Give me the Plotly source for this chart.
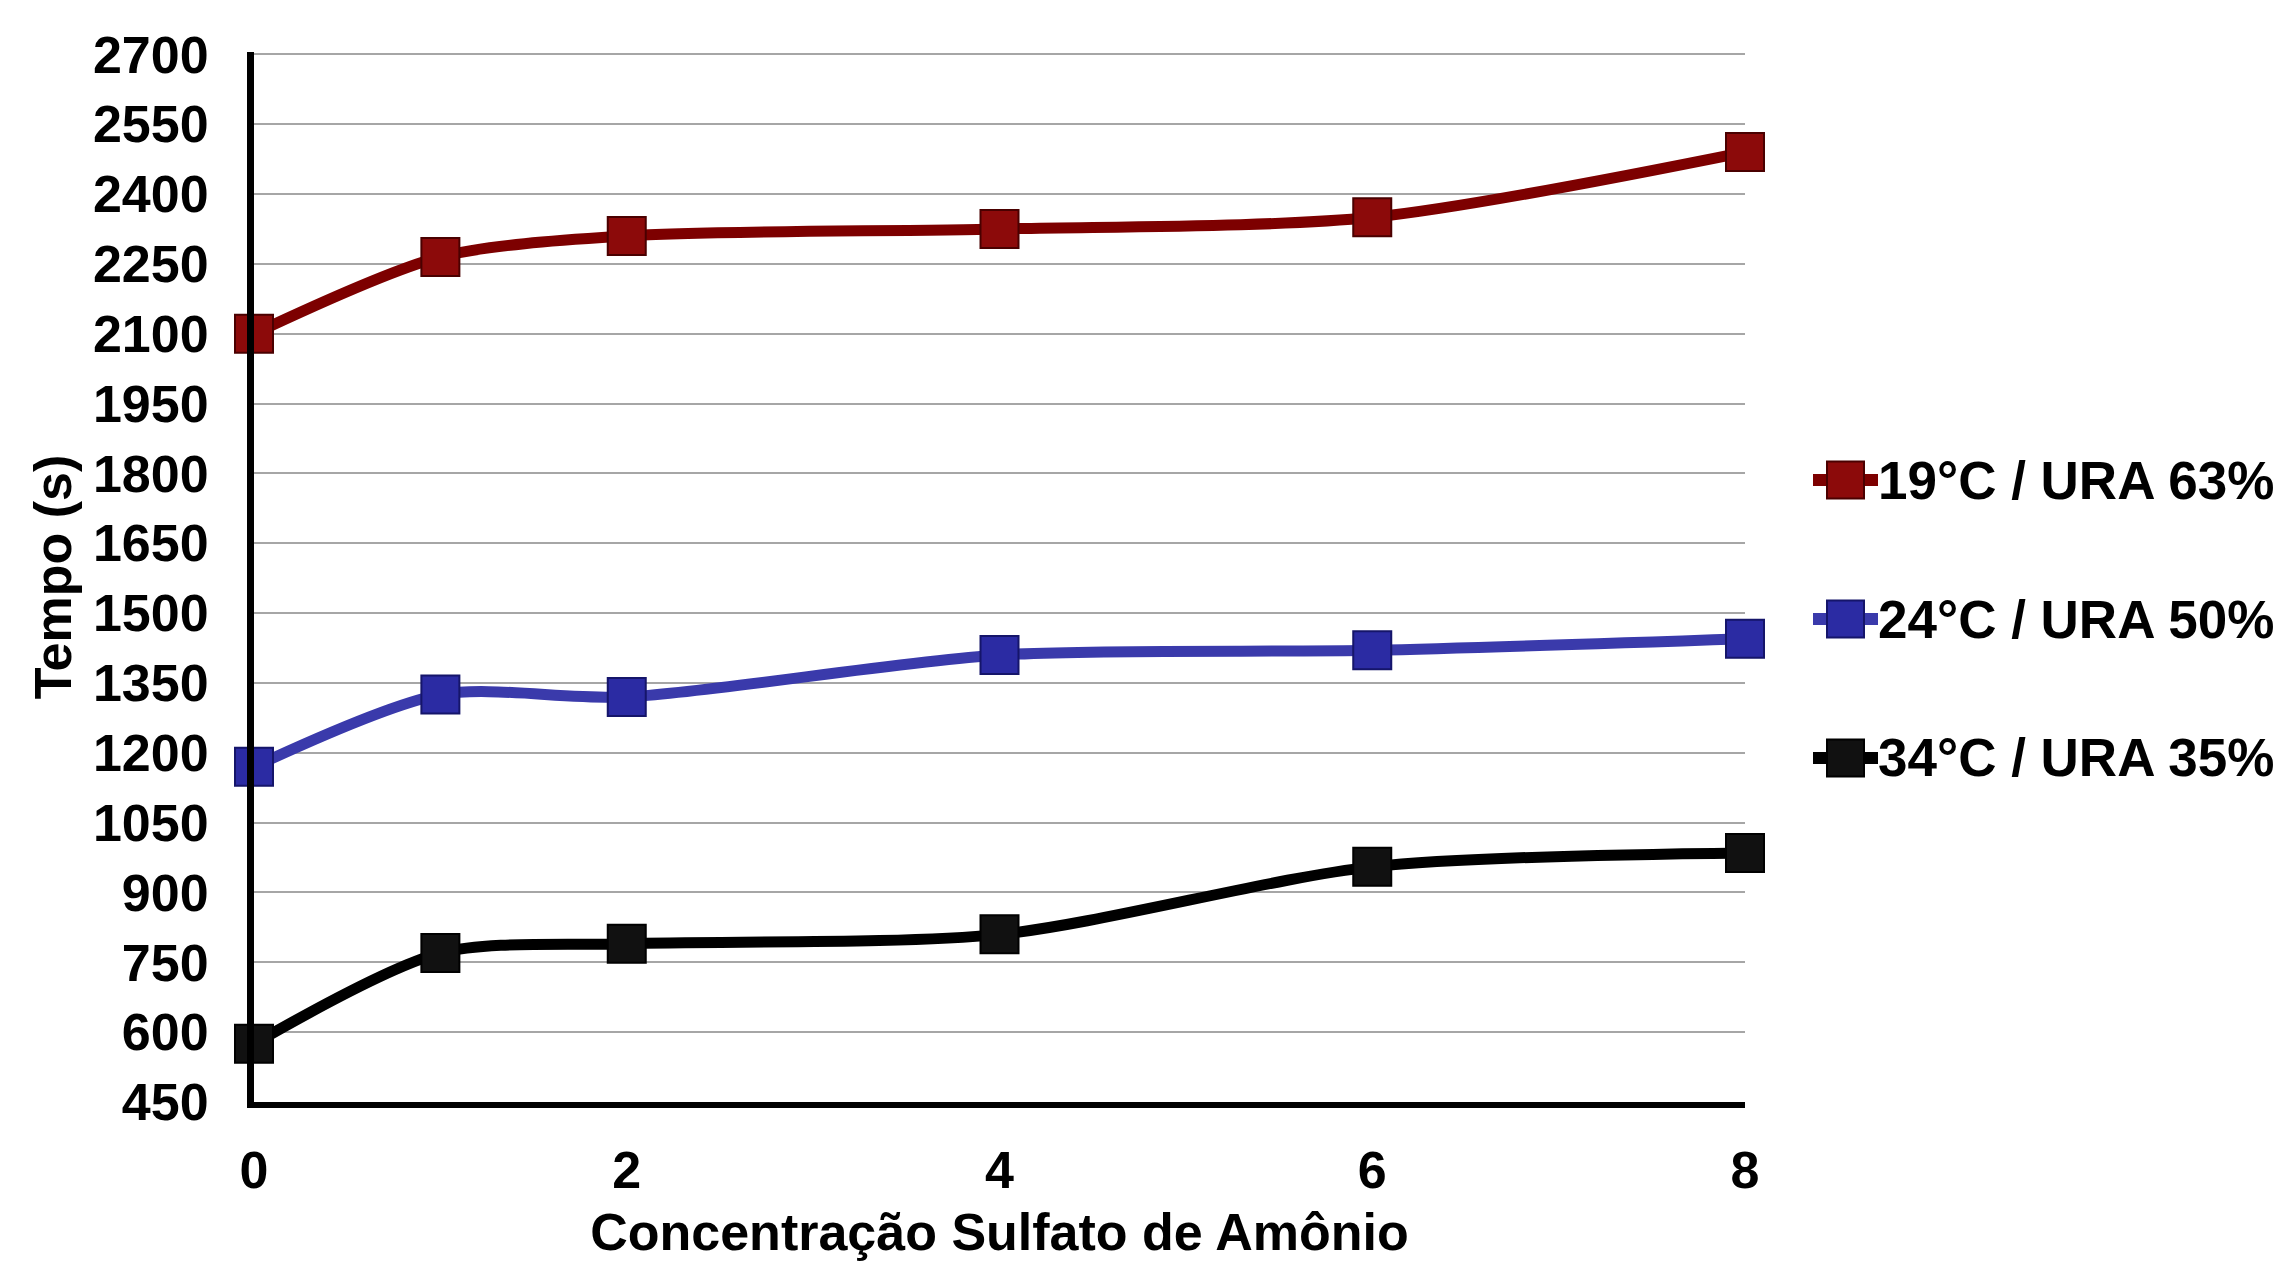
import plotly.graph_objects as go

# Concentration of ammonium sulfate (x) and drying time in seconds (y)
concentracao = [0, 1, 2, 4, 6, 8]
serie_19C = [2100, 2265, 2310, 2325, 2350, 2490]
serie_24C = [1170, 1325, 1320, 1410, 1420, 1445]
serie_34C = [575, 770, 790, 810, 955, 985]

nomes = ["19°C / URA 63%", "24°C / URA 50%", "34°C / URA 35%"]
cores_linha = ["#7d0000", "#3a3aab", "#000000"]
cores_marcador = ["#8c0a0a", "#2b2ba3", "#111111"]
cores_borda = ["#4a0000", "#15156a", "#000000"]

y_ticks = list(range(450, 2701, 150))
x_ticks = [0, 2, 4, 6, 8]

FONT = "Liberation Sans, Arial, Helvetica, sans-serif"

fig = go.Figure()
for nome, ys, cl, cm, cb in zip(nomes, [serie_19C, serie_24C, serie_34C],
                                cores_linha, cores_marcador, cores_borda):
    fig.add_trace(go.Scatter(
        x=concentracao, y=ys, name=nome, mode="lines+markers",
        line=dict(color=cl, width=11, shape="spline", smoothing=0.8),
        marker=dict(symbol="square", size=38, color=cm,
                    line=dict(color=cb, width=2)),
        cliponaxis=False, showlegend=False,
    ))

# Legend drawn as keys beside the plot area
L, R, T, B = 254, 535, 52, 159
W, H = 2280, 1261
pw, ph = W - L - R, H - T - B
legend_rows_px = [480, 619, 758]
shapes = []
annotations = []
for nome, py, cl, cm, cb in zip(nomes, legend_rows_px, cores_linha,
                                cores_marcador, cores_borda):
    yp = (H - B - py) / ph
    x0 = (1813 - L) / pw
    x1 = (1878 - L) / pw
    shapes.append(dict(type="line", xref="paper", yref="paper",
                       x0=x0, x1=x1, y0=yp, y1=yp,
                       line=dict(color=cl, width=12)))
    half_w = 18.5 / pw
    half_h = 18.5 / ph
    xc = (1845.5 - L) / pw
    shapes.append(dict(type="rect", xref="paper", yref="paper",
                       x0=xc - half_w, x1=xc + half_w,
                       y0=yp - half_h, y1=yp + half_h,
                       fillcolor=cm, line=dict(color=cb, width=2)))
    annotations.append(dict(text=nome, xref="paper", yref="paper",
                            x=(1876 - L) / pw, y=yp, xanchor="left",
                            yanchor="middle", showarrow=False,
                            font=dict(family=FONT, size=53, color="black",
                                      weight="bold")))

fig.update_layout(
    width=W, height=H,
    margin=dict(l=L, r=R, t=T, b=B, autoexpand=False),
    paper_bgcolor="white", plot_bgcolor="white",
    showlegend=False,
    shapes=shapes, annotations=annotations,
    font=dict(family=FONT, color="black"),
)

fig.update_xaxes(
    range=[0, 8], tickvals=x_ticks, ticks="",
    showgrid=False, zeroline=False,
    showline=True, linecolor="black", linewidth=6,
    tickfont=dict(family=FONT, size=52, weight="bold"),
    ticklabelstandoff=18,
    title=dict(text="Concentração Sulfato de Amônio", standoff=36,
               font=dict(family=FONT, size=52, weight="bold")),
)
fig.update_yaxes(
    range=[450, 2705], tickvals=y_ticks, ticks="",
    showgrid=True, gridcolor="#a6a6a6", gridwidth=2,
    zeroline=False,
    showline=True, linecolor="black", linewidth=7,
    tickfont=dict(family=FONT, size=52, weight="bold"),
    ticklabelstandoff=28,
    title=dict(text="Tempo (s)", standoff=7,
               font=dict(family=FONT, size=52, weight="bold")),
)

fig.write_html("out.html")
